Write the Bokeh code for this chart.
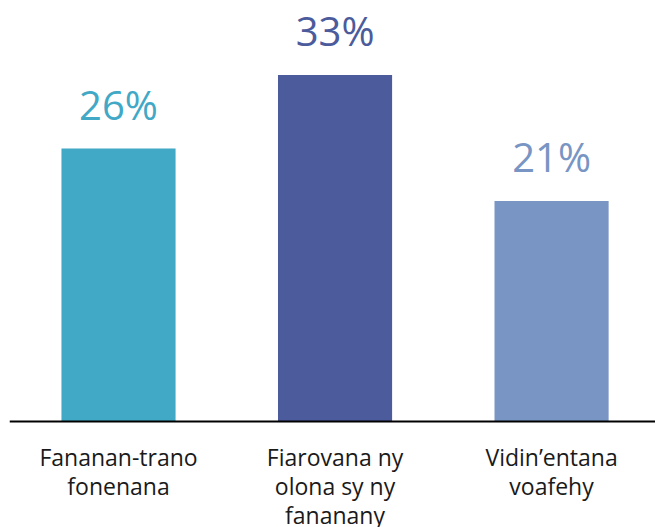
from bokeh.plotting import figure
from bokeh.models import Range1d, Span, ColumnDataSource
from bokeh.core.properties import value
from bokeh.embed import file_html
from bokeh.resources import INLINE

categories = ["Fananan-trano\nfonenana", "Fiarovana ny\nolona sy ny\nfananany", "Vidin\u2019entana\nvoafehy"]
values = [26, 33, 21]
labels = ["26%", "33%", "21%"]
colors = ["#41A8C6", "#4C5B9C", "#7895C4"]

xs = list(range(len(categories)))
src = ColumnDataSource(dict(x=xs, v=values, lab=labels, cat=categories, c=colors, zero=[0] * len(xs)))

p = figure(width=655, height=527, output_backend="svg", toolbar_location=None,
           x_range=Range1d(-0.5035, 2.48), y_range=Range1d(-10.095, 40.095),
           min_border=0, min_border_left=9, outline_line_color=None)
p.xaxis.visible = False
p.yaxis.visible = False
p.xgrid.visible = False
p.ygrid.visible = False

p.vbar(x="x", top="v", bottom="zero", width=0.527, fill_color="c", line_color=None, source=src)
p.add_layout(Span(location=0, dimension="width", line_color="black", line_width=2))

p.text(x="x", y="v", text="lab", text_color="c", text_font=value("Open Sans"),
       text_font_size="40px", text_align="center", text_baseline="alphabetic",
       y_offset=-44, source=src)
p.text(x="x", y="zero", text="cat", text_color="#1a1a1a", text_font=value("Open Sans"),
       text_font_size="23px", text_align="center", text_baseline="top",
       text_line_height=0.91, y_offset=19, source=src)

open("out.html", "w").write(file_html(p, INLINE))
